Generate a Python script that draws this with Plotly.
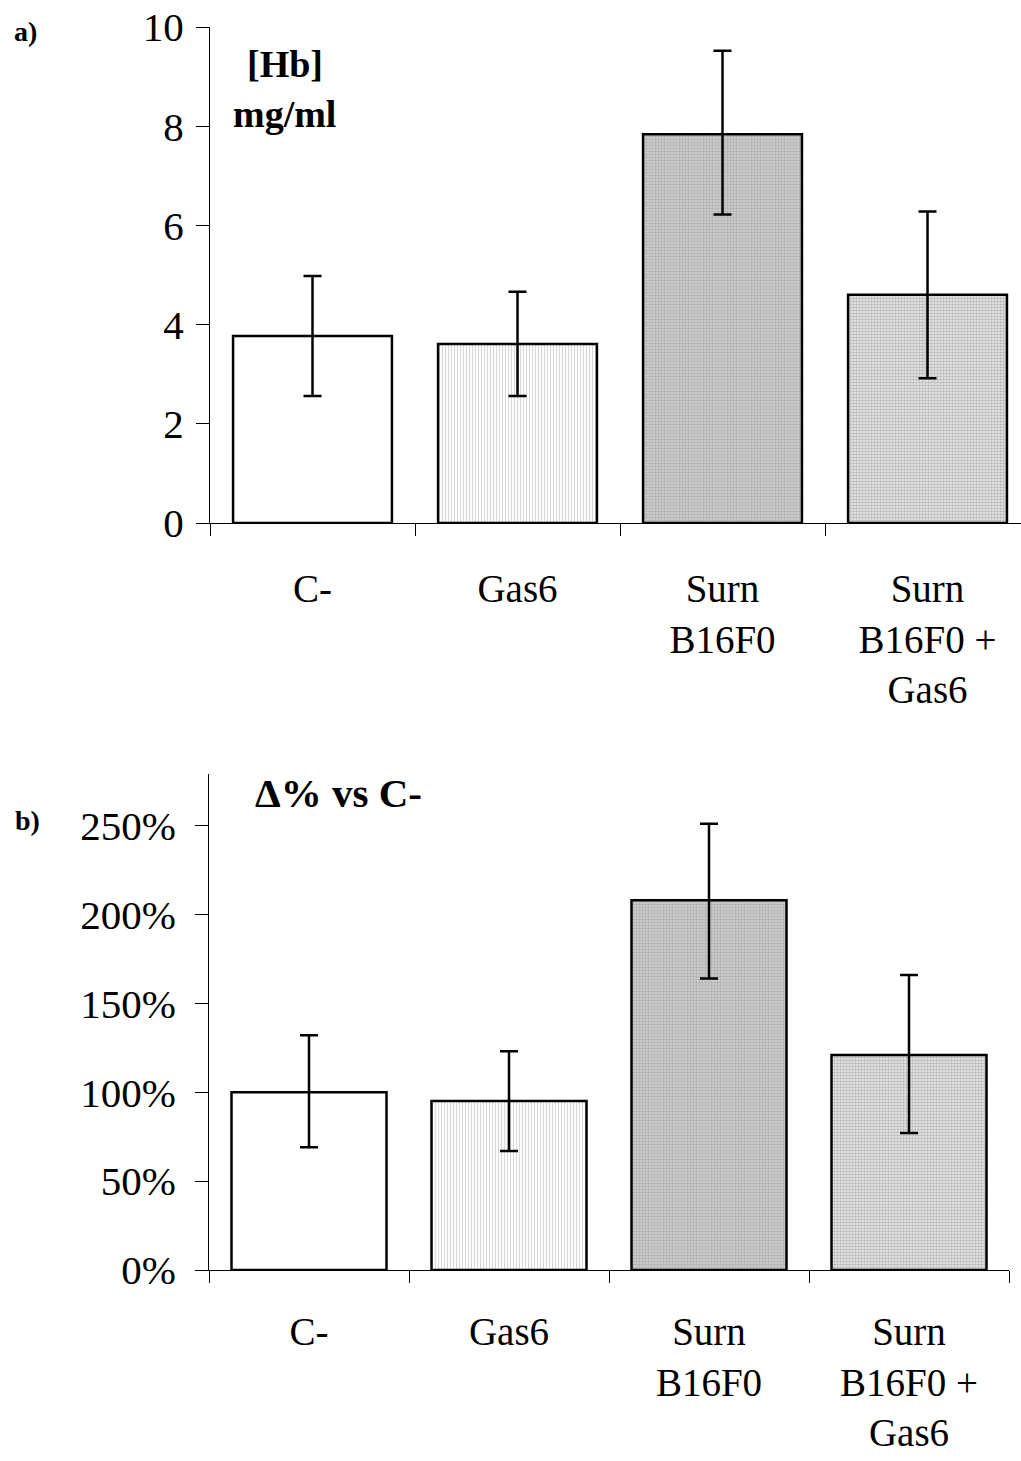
import plotly.graph_objects as go

# ---- data ----
categories = ["C-", "Gas6", "Surn<br>B16F0", "Surn<br>B16F0 +<br>Gas6"]

hb_values = [3.77, 3.61, 7.84, 4.60]
hb_err_high = [4.98, 4.66, 9.52, 6.28]
hb_err_low = [2.56, 2.56, 6.22, 2.92]

pct_values = [1.00, 0.95, 2.08, 1.21]
pct_err_high = [1.32, 1.23, 2.51, 1.66]
pct_err_low = [0.69, 0.67, 1.64, 0.77]

y_ticks_a = [0, 2, 4, 6, 8, 10]
y_ticks_b = [0, 0.5, 1.0, 1.5, 2.0, 2.5]

# ---- styles ----
W, H = 1021, 1461
FONT = "Liberation Serif"
patterns = [
    dict(shape="", bgcolor="white"),
    dict(shape="|", fgcolor="#b4b4b4", bgcolor="white", size=3, solidity=0.4),
    dict(shape=".", fgcolor="#8c8c8c", bgcolor="#d2d2d2", size=3, solidity=0.5),
    dict(shape=".", fgcolor="#868686", bgcolor="#ececec", size=3, solidity=0.55),
]

def px_x(px):
    return px / W

def px_y(py):
    return 1 - py / H

fig = go.Figure()

def add_bars(vals, hi, lo, xa, ya):
    for i, cat in enumerate(categories):
        fig.add_trace(go.Bar(
            x=[cat], y=[vals[i]],
            xaxis=xa, yaxis=ya,
            marker=dict(color="white", pattern=patterns[i],
                        line=dict(color="black", width=2.5)),
            error_y=dict(type="data", symmetric=False,
                         array=[hi[i] - vals[i]], arrayminus=[vals[i] - lo[i]],
                         color="black", thickness=2.5, width=9),
            showlegend=False, hoverinfo="skip",
        ))

add_bars(hb_values, hb_err_high, hb_err_low, "x", "y")
add_bars(pct_values, pct_err_high, pct_err_low, "x2", "y2")

xcommon = dict(type="category", categoryorder="array", categoryarray=categories,
               showline=True, linecolor="black", linewidth=1,
               ticks="outside", ticklen=12, tickcolor="black", tickwidth=1,
               tickson="boundaries", showgrid=False, zeroline=False,
               tickfont=dict(family=FONT, size=39, color="black"),
               automargin=False)
ycommon = dict(showline=True, linecolor="black", linewidth=1,
               ticks="outside", ticklen=13, tickcolor="black", tickwidth=1,
               showgrid=False, zeroline=False,
               tickfont=dict(family=FONT, size=41, color="black"),
               automargin=False)

fig.update_layout(
    width=W, height=H,
    margin=dict(l=0, r=0, t=0, b=0, autoexpand=False),
    paper_bgcolor="white", plot_bgcolor="white",
    bargap=0.225, showlegend=False,
    xaxis=dict(xcommon, domain=[px_x(210), 1.0], range=[-0.5, 3.456], anchor="y",
               ticklabelstandoff=31),
    yaxis=dict(ycommon, domain=[px_y(523), px_y(27)], range=[0, 10],
               tickvals=y_ticks_a, anchor="x", ticklabelstandoff=4),
    xaxis2=dict(xcommon, domain=[px_x(209), px_x(1009)], range=[-0.5, 3.5], anchor="y2",
                ticklabelstandoff=27),
    yaxis2=dict(ycommon, domain=[px_y(1270), px_y(774)], range=[0, 2.79],
                tickvals=y_ticks_b, tickformat=".0%", anchor="x2", ticklabelstandoff=11),
)

annots = [
    dict(text="<b>a)</b>", x=px_x(25), y=px_y(32), size=28),
    dict(text="<b>b)</b>", x=px_x(27), y=px_y(820), size=28),
    dict(text="<b>[Hb]</b>", x=px_x(285), y=px_y(64), size=38),
    dict(text="<b>mg/ml</b>", x=px_x(284), y=px_y(114), size=38),
    dict(text="<b>Δ% vs C-</b>", x=px_x(338), y=px_y(793), size=41),
]
for a in annots:
    fig.add_annotation(text=a["text"], x=a["x"], y=a["y"], xref="paper", yref="paper",
                       xanchor="center", yanchor="middle", showarrow=False,
                       font=dict(family=FONT, size=a["size"], color="black"))

fig.write_html("out.html")
